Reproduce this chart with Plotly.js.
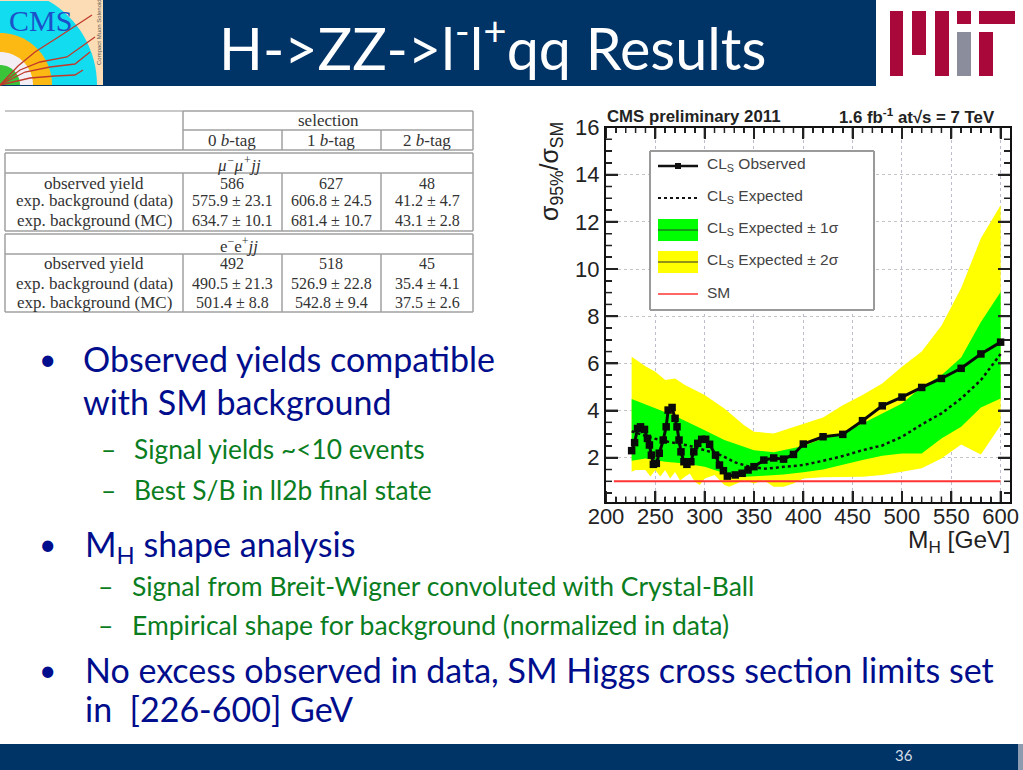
<!DOCTYPE html>
<html><head><meta charset="utf-8">
<script src="https://cdn.plot.ly/plotly-3.0.1.min.js"></script>
<style>html,body{margin:0;padding:0;background:#fff;overflow:hidden}#chart{width:1023px;height:770px}</style>
</head><body><div id="chart"></div>
<script>
// ---- chart values ----
const obsMass=[226,229,232,235,239,242,244,246,248,251,254,258,261,263,267,270,272,274,276,279,282,286,289,293,297,301,305,311,315,319,323,331,338,344,350,360,370,380,390,400,420,440,460,480,500,520,540,560,580,600];
const obsLimit=[2.30,2.64,3.24,3.31,3.20,2.82,2.54,2.11,1.72,1.76,2.19,2.75,3.31,4.02,4.13,3.67,3.31,2.75,2.25,1.83,1.72,1.83,2.25,2.61,2.78,2.78,2.57,2.11,1.69,1.45,1.22,1.27,1.34,1.48,1.62,1.90,1.99,1.94,2.14,2.58,2.89,2.99,3.57,4.20,4.57,4.98,5.36,5.79,6.40,6.90];
const expMass=[226,240,248,263,285,300,317,331,343,360,380,400,420,440,460,480,500,520,540,560,580,600];
const expLimit=[3.12,2.92,2.82,2.68,2.50,2.32,2.10,1.80,1.65,1.53,1.62,1.69,1.87,2.07,2.32,2.52,2.89,3.41,3.88,4.51,5.29,6.40];
const oneUpMass=[226,250,270,300,320,350,370,400,420,440,460,480,500,520,540,560,580,600];
const oneUp=[4.49,4.09,3.77,3.17,2.75,2.32,2.23,2.50,2.82,3.06,3.45,3.88,4.30,5.00,5.50,6.25,7.75,9.03];
const oneDownMass=[226,240,260,280,300,320,340,360,380,400,420,440,460,480,500,520,540,560,580,600];
const oneDown=[1.87,1.97,1.83,1.76,1.62,1.34,1.19,1.24,1.29,1.38,1.50,1.69,1.90,2.08,2.18,2.18,2.82,3.31,4.13,4.51];
const twoUpMass=[226,240,250,260,270,280,300,320,340,350,370,380,400,420,440,460,480,500,520,540,560,580,600];
const twoUp=[6.28,5.88,5.64,5.29,5.36,5.08,4.66,4.09,3.38,3.10,3.03,3.17,3.45,3.71,4.23,4.66,5.15,5.86,6.50,7.60,9.20,11.30,12.70];
const twoDownMass=[226,230,240,245,250,255,260,265,270,275,280,285,290,295,300,310,320,325,330,340,350,360,370,380,390,400,420,440,460,480,500,520,540,560,580,600];
const twoDown=[1.41,1.48,1.48,1.20,1.48,1.20,1.48,1.12,1.40,1.03,1.19,1.33,0.98,0.84,1.12,1.27,0.84,0.77,0.84,1.05,0.91,1.05,0.77,0.77,0.91,1.12,1.17,1.19,1.19,1.27,1.41,1.55,1.97,2.56,2.14,3.38];
const smMass=[208,600];
const smLimit=[1,1];
// ---- text ----
const legendLabels=['CL<sub>S</sub> Observed','CL<sub>S</sub> Expected','CL<sub>S</sub> Expected ± 1σ','CL<sub>S</sub> Expected ± 2σ','SM'];
const tableHeads=['selection','0 <i>b</i>-tag','1 <i>b</i>-tag','2 <i>b</i>-tag'];
const tableRows=['observed yield','exp. background (data)','exp. background (MC)'];
const muonTitle='<i>μ<sup>−</sup>μ<sup>+</sup>jj</i>';
const muonCells=[['586','627','48'],['575.9 ± 23.1','606.8 ± 24.5','41.2 ± 4.7'],['634.7 ± 10.1','681.4 ± 10.7','43.1 ± 2.8']];
const elecTitle='e<sup>−</sup>e<sup>+</sup><i>jj</i>';
const elecCells=[['492','518','45'],['490.5 ± 21.3','526.9 ± 22.8','35.4 ± 4.1'],['501.4 ± 8.8','542.8 ± 9.4','37.5 ± 2.6']];
const slideTitle='H-&gt;ZZ-&gt;l<sup>-</sup>l<sup>+</sup>qq Results';

(function(){
// ---- helpers: page pixels to paper fractions ----
const W=1023,H=770;
const px=x=>x/W, py=y=>1-y/H;
const ann=[],shp=[];
function addText(text,x,y,size,color,anchor,family,extra){
  ann.push(Object.assign({text,x:px(x),y:py(y),xref:'paper',yref:'paper',showarrow:false,xanchor:anchor||'left',yanchor:'middle',
    borderpad:0,font:{size,color,family:family||'Lato'}},extra||{}));
}
function addRect(x0,y0,x1,y1,fill){shp.push({type:'rect',xref:'paper',yref:'paper',x0:px(x0),x1:px(x1),y0:py(y0),y1:py(y1),fillcolor:fill,line:{width:0},layer:'above'});}
function addLine(x0,y0,x1,y1,color,w,dash){shp.push({type:'line',xref:'paper',yref:'paper',x0:px(x0),x1:px(x1),y0:py(y0),y1:py(y1),line:{color,width:w,dash:dash||'solid'},layer:'above'});}
function addPath(pts,close,fill,line,w){
  const path='M'+pts.map(p=>px(p[0]).toFixed(5)+','+py(p[1]).toFixed(5)).join(' L')+(close?' Z':'');
  shp.push({type:'path',xref:'paper',yref:'paper',path,fillcolor:fill||'rgba(0,0,0,0)',line:{color:line||'rgba(0,0,0,0)',width:w||0},layer:'above'});
}
function quarter(r){const n=24,p=[[0,85]];for(let i=0;i<=n;i++){const a=(90*i/n)*Math.PI/180;p.push([Math.min(102,r*Math.cos(a)),Math.max(1,85-r*Math.sin(a))]);}return p;}

// ---- slide frame ----
const navy='#003366';
addRect(103,0,876,86,navy);
addRect(0,85,103,86,navy);
addRect(0,744,1023,770,navy);
addRect(1018,744,1023,770,'#8c9bb0');
addText(slideTitle,218,44,57.5,'#ffffff','left');
addText('36',904,755,15,'#d5dde8','center');

// CMS badge
addRect(0,0,103,85,'#fbdcb5');
addPath(quarter(97).concat([[0,1]]),true,'#12dcf0');
addPath(quarter(52),true,'#fdb913');
addPath(quarter(33),true,'#f2eef4');
addPath(quarter(20),true,'#39c43a');
addText('CMS',40,20,30,'#1c50c8','center','Liberation Serif');
addPath([[0,85],[18,66],[35,52],[60,36],[92,15]],false,null,'#c0392b',1.3);
addPath([[0,85],[20,70],[40,62],[67,57],[95,37]],false,null,'#c0392b',1.3);
addPath([[0,85],[25,72],[50,67],[75,64],[90,52]],false,null,'#c0392b',1.3);
addPath([[0,85],[30,78],[55,76],[75,75],[83,70]],false,null,'#c0392b',1.3);
addText('Compact Muon Solenoid',99,32,6,'#555','center','Liberation Sans',{textangle:-90});

// MIT logo
const mitRed='#a8083a',mitGray='#8b8c9c';
addRect(890,11,903,76,mitRed);
addRect(912,11,926,55,mitRed);
addRect(935,11,949,76,mitRed);
addRect(957,11,971,24,mitRed);
addRect(957,32,971,76,mitGray);
addRect(979,11,1015,24,mitRed);
addRect(979,32,993,76,mitRed);

// ---- results table ----
const gc='#a0a0a0',tc='#333333',tf='Liberation Serif',ts=17,tv=16;
addLine(5,111,183,111,'#c8c8c8',2);
[[183,111,473],[183,130,473],[5,150,473],[5,153,473],[5,173,473],[5,231,473],[5,234,473],[5,254,473],[5,312,473]].forEach(([a,y,b])=>addLine(a,y,b,y,gc,1.5));
[[183,111,150],[473,111,150],[282,130,150],[381,130,150],[5,153,231],[473,153,231],[5,234,312],[473,234,312],
 [183,173,231],[282,173,231],[381,173,231],[183,254,312],[282,254,312],[381,254,312]].forEach(([x,a,b])=>addLine(x,a,x,b,gc,1.5));
const colX=[232,331,427];
addText(tableHeads[0],328,120,ts,tc,'center',tf);
tableHeads.slice(1).forEach((t,i)=>addText(t,colX[i],140,ts,tc,'center',tf));
addText(muonTitle,239,164,ts,tc,'center',tf);
addText(elecTitle,239,245,ts,tc,'center',tf);
[[[183,201,220],muonCells],[[263,283,302],elecCells]].forEach(([ys,cells])=>{
  ys.forEach((y,r)=>{
    addText(tableRows[r],94,y,ts,tc,'center',tf);
    cells[r].forEach((v,j)=>addText(v,colX[j],y,tv,tc,'center',tf));
  });
});

// ---- bullets ----
const blue='#000d8c',green='#0a7d1e';
const big=34,sub=26.3,sub2=26.5;
addText('•',47,358,30,blue,'center');
addText('Observed yields compatible',82,358,big,blue);
addText('with SM background',82,402,big,blue);
addText('–',108,449,sub,green,'center');
addText('Signal yields ~&lt;10 events',133,449,sub,green);
addText('–',108,490,sub,green,'center');
addText('Best S/B in ll2b final state',133,490,sub,green);
addText('•',47,543,30,blue,'center');
addText('M<sub>H</sub> shape analysis',84,546,big,blue);
addText('–',105,586,sub2,green,'center');
addText('Signal from Breit-Wigner convoluted with Crystal-Ball',131,586,sub2,green);
addText('–',105,625,sub2,green,'center');
addText('Empirical shape for background (normalized in data)',131,625,sub2,green);
addText('•',47,669,30,blue,'center');
addText('No excess observed in data, SM Higgs cross section limits set',84,669,big,blue);
addText('in  [226-600] GeV',84,708,big,blue);

// ---- plot labels ----
const hf='Liberation Sans',ink='#222222';
addText('<b>CMS preliminary 2011</b>',606,116,16.8,ink,'left',hf);
addText('<b>1.6 fb<sup>-1</sup> at√s = 7 TeV</b>',996,116,16.8,ink,'right',hf);
addText('σ<sub>95%</sub>/σ<sub>SM</sub>',551,172,25,ink,'center',hf,{textangle:-90});
addText('M<sub>H</sub> [GeV]',1011,541,24.5,ink,'right',hf);

// ---- tick marks on all four sides, placed through the axes ----
const frame={l:606,r:1010,t:127.5,b:502};
function xTick(v,len,w){
  [[frame.b,frame.b-len],[frame.t,frame.t+len]].forEach(([a,b])=>shp.push({type:'line',xref:'x',yref:'paper',x0:v,x1:v,y0:py(a),y1:py(b),line:{color:'#222',width:w},layer:'above'}));
}
function yTick(v,len,w){
  [[frame.l,frame.l+len],[frame.r,frame.r-len]].forEach(([a,b])=>shp.push({type:'line',xref:'paper',yref:'y',y0:v,y1:v,x0:px(a),x1:px(b),line:{color:'#222',width:w},layer:'above'}));
}
for(let m=200;m<=600;m+=10) xTick(m,m%50===0?11:5.5,m%50===0?2:1.5);
for(let k=1;k<=31;k++) yTick(k/2,k%4===0?12:6,k%4===0?2:1.5);

// ---- legend ----
addRect(650,151,874,310,'#ffffff');
addLine(650,151,874,151,'#9a9a9a',2);addLine(650,310,874,310,'#9a9a9a',2);addLine(650,151,650,310,'#9a9a9a',2);addLine(874,151,874,310,'#9a9a9a',2);
const legY=[166,198,230,262,294];
addLine(658,166,698,166,'#111',2.5);
addRect(675,163,681,169,'#111');
addLine(658,198,698,198,'#111',2,'dot');
addRect(658,219,698,241,'#00ff00');addLine(658,230,698,230,'#1c7a1c',1.5);
addRect(658,251,698,273,'#ffff00');addLine(658,262,698,262,'#6f6f1c',1.5);
addLine(658,294,698,294,'#ff3333',1.5);
legendLabels.forEach((t,i)=>addText(t,705.5,legY[i]-1.5,15.5,'#444444','left',hf));

// ---- traces ----
const closed=(a,b)=>a.concat(b.slice().reverse());
const traces=[
 {x:closed(twoUpMass,twoDownMass),y:closed(twoUp,twoDown),type:'scatter',mode:'lines',fill:'toself',fillcolor:'#ffff00',line:{width:0},name:'CLs Expected ± 2σ',hoverinfo:'skip'},
 {x:closed(oneUpMass,oneDownMass),y:closed(oneUp,oneDown),type:'scatter',mode:'lines',fill:'toself',fillcolor:'#00ff00',line:{width:0},name:'CLs Expected ± 1σ',hoverinfo:'skip'},
 {x:smMass,y:smLimit,type:'scatter',mode:'lines',line:{color:'#ff3333',width:2},name:'SM'},
 {x:expMass,y:expLimit,type:'scatter',mode:'lines',line:{color:'#111',width:2.5,dash:'dot'},name:'CLs Expected'},
 {x:obsMass,y:obsLimit,type:'scatter',mode:'lines+markers',line:{color:'#0a0a0a',width:3},marker:{symbol:'square',size:7.5,color:'#0a0a0a'},name:'CLs Observed'}
];
const layout={
 width:W,height:H,margin:{l:0,r:0,t:0,b:0},showlegend:false,paper_bgcolor:'#ffffff',plot_bgcolor:'#ffffff',
 xaxis:{domain:[606/W,1010/W],range:[200,609.5],dtick:50,tick0:200,ticks:'inside',ticklen:11,tickwidth:2,tickcolor:'#222',
   showline:true,linecolor:'#111',linewidth:2,mirror:'allticks',zeroline:false,ticklabelstandoff:-6,
   showgrid:true,gridcolor:'#bdbdd0',griddash:'dot',gridwidth:1,
   minor:{dtick:10,ticks:'inside',ticklen:5.5,tickwidth:1.5,tickcolor:'#222',showgrid:false},
   tickfont:{family:hf,size:22,color:ink},automargin:false},
 yaxis:{domain:[1-502/H,1-127.5/H],range:[0.123,16],dtick:2,tick0:0,ticks:'inside',ticklen:12,tickwidth:2,tickcolor:'#222',
   showline:true,linecolor:'#111',linewidth:2,mirror:'allticks',zeroline:false,
   showgrid:true,gridcolor:'#c4c4c4',griddash:'dot',gridwidth:1,
   minor:{dtick:0.5,ticks:'inside',ticklen:6,tickwidth:1.5,tickcolor:'#222',showgrid:false},
   tickfont:{family:hf,size:22,color:ink},automargin:false},
 annotations:ann,shapes:shp
};
Plotly.newPlot('chart',traces,layout,{displayModeBar:false,staticPlot:true});
})();
</script></body></html>
